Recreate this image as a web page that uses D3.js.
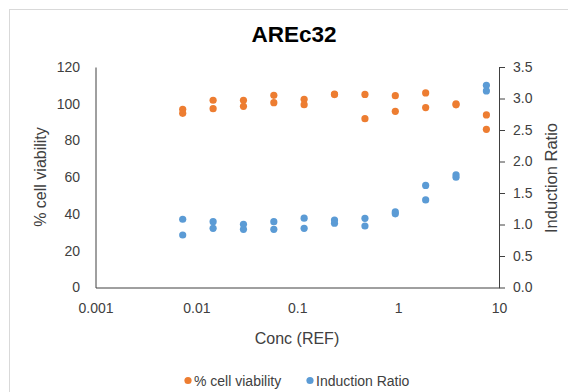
<!DOCTYPE html>
<html>
<head>
<meta charset="utf-8">
<script src="https://cdn.jsdelivr.net/npm/d3@7"></script>
<style>
  body { margin: 0; background: #fff; }
  svg { display: block; font-family: "Liberation Sans", Arial, sans-serif; }
</style>
</head>
<body>
<svg></svg>
<script>
let svg = d3.select("svg");
const width = 568;
const height = 392;
const margin = {top: 67, right: 69, bottom: 104.5, left: 95.5};
svg.attr("width", width).attr("height", height);

// data (two replicates per concentration)
const conc = [0.00732, 0.01465, 0.0293, 0.0586, 0.117, 0.234, 0.469, 0.9375, 1.875, 3.75, 7.5];
const viabilityA = [97.0, 101.9, 101.9, 104.6, 102.4, 105.3, 105.1, 104.4, 105.9, 99.9, 93.9];
const viabilityB = [94.8, 97.3, 98.6, 100.6, 99.5, 105.0, 91.9, 95.9, 97.9, 99.4, 86.1];
const ratioA = [1.083, 1.045, 1.003, 1.045, 1.10, 1.07, 1.098, 1.20, 1.62, 1.79, 3.21];
const ratioB = [0.833, 0.94, 0.924, 0.924, 0.94, 1.02, 0.976, 1.17, 1.39, 1.75, 3.12];
const xTicks = [0.001, 0.01, 0.1, 1, 10];
const yLeftTicks = [0, 20, 40, 60, 80, 100, 120];
const yRightTicks = [0, 0.5, 1, 1.5, 2, 2.5, 3, 3.5];
const seriesNames = ["% cell viability", "Induction Ratio"];
const colors = ["#ED7D31", "#5B9BD5"];

let xScale = d3.scaleLog().domain([0.001, 10]).range([margin.left, width - margin.right]);
let yLeft = d3.scaleLinear().domain([0, 120]).range([height - margin.bottom, margin.top]);
let yRight = d3.scaleLinear().domain([0, 3.5]).range([height - margin.bottom, margin.top]);

// chart border (only top/left visible)
svg.append("rect")
  .attr("x", 9.5).attr("y", 9.5)
  .attr("width", 600).attr("height", 600)
  .attr("fill", "none")
  .attr("stroke", "#d9d9d9");

svg.append("text")
  .attr("x", 294).attr("y", 42)
  .attr("text-anchor", "middle")
  .attr("font-size", 22.5)
  .attr("font-weight", "bold")
  .attr("fill", "#000")
  .text("AREc32");

// axes
let xAxis = svg.append("g")
  .attr("transform", `translate(0,${height - margin.bottom})`)
  .call(d3.axisBottom(xScale).tickValues(xTicks).tickSize(0).tickPadding(16)
    .tickFormat(d => d3.format("~g")(d)));

let leftAxis = svg.append("g")
  .attr("transform", `translate(${margin.left},0)`)
  .call(d3.axisLeft(yLeft).tickValues(yLeftTicks).tickSize(0).tickPadding(15.5));

let rightAxis = svg.append("g")
  .attr("transform", `translate(${width - margin.right},0)`)
  .call(d3.axisRight(yRight).tickValues(yRightTicks).tickSizeInner(6).tickSizeOuter(0).tickPadding(8)
    .tickFormat(d3.format(".1f")));

[xAxis, leftAxis, rightAxis].forEach(ax => {
  ax.select(".domain").attr("stroke", "#404040");
  ax.selectAll(".tick line").attr("stroke", "#404040");
  ax.selectAll(".tick text").attr("fill", "#404040").attr("font-size", 14);
});

// axis titles
svg.append("text")
  .attr("x", 297).attr("y", 343.5)
  .attr("text-anchor", "middle")
  .attr("font-size", 16)
  .attr("fill", "#404040")
  .text("Conc (REF)");

svg.append("text")
  .attr("transform", "translate(46,177) rotate(-90)")
  .attr("text-anchor", "middle")
  .attr("font-size", 16)
  .attr("fill", "#404040")
  .text("% cell viability");

svg.append("text")
  .attr("transform", "translate(557,178) rotate(-90)")
  .attr("text-anchor", "middle")
  .attr("font-size", 16.5)
  .attr("fill", "#404040")
  .text("Induction Ratio");

// points
let viability = conc.flatMap((c, i) => [{c: c, v: viabilityA[i]}, {c: c, v: viabilityB[i]}]);
let ratio = conc.flatMap((c, i) => [{c: c, v: ratioA[i]}, {c: c, v: ratioB[i]}]);

svg.append("g").selectAll("circle")
  .data(viability)
  .enter()
  .append("circle")
  .attr("cx", d => xScale(d.c))
  .attr("cy", d => yLeft(d.v))
  .attr("r", 3.6)
  .attr("fill", colors[0]);

svg.append("g").selectAll("circle")
  .data(ratio)
  .enter()
  .append("circle")
  .attr("cx", d => xScale(d.c))
  .attr("cy", d => yRight(d.v))
  .attr("r", 3.6)
  .attr("fill", colors[1]);

// legend
const legendX = [188, 310];
let legend = svg.append("g").selectAll("g")
  .data(seriesNames)
  .enter()
  .append("g")
  .attr("transform", (d, i) => `translate(${legendX[i]},380.5)`);

legend.append("circle")
  .attr("cx", 0).attr("cy", 0).attr("r", 3.6)
  .attr("fill", (d, i) => colors[i]);

legend.append("text")
  .attr("x", 6).attr("y", 5)
  .attr("font-size", 14)
  .attr("fill", "#404040")
  .text(d => d);
</script>
</body>
</html>
